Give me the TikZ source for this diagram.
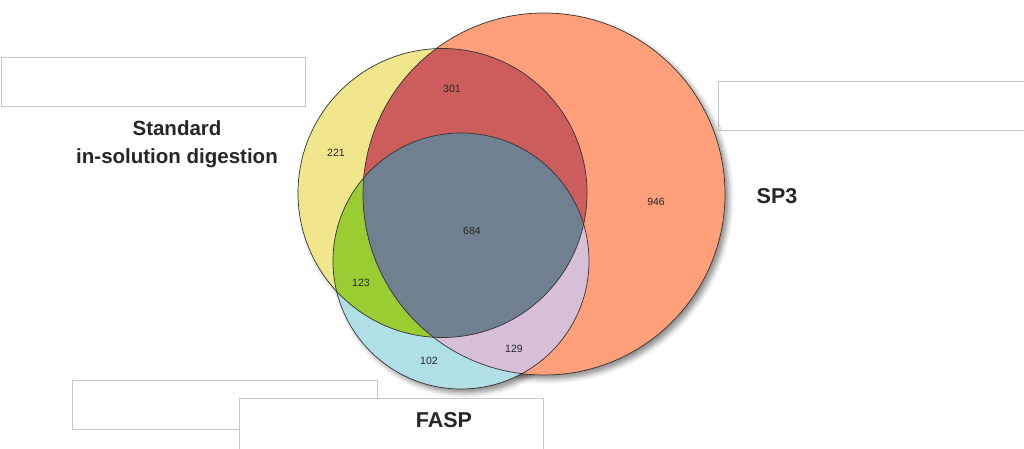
\documentclass[tikz,border=0pt]{standalone}
\usepackage{fontspec}
\setmainfont{Liberation Sans}
\usetikzlibrary{shadows.blur}
\definecolor{stdcol}{HTML}{F0E68C}
\definecolor{spcol}{HTML}{FFA07A}
\definecolor{faspcol}{HTML}{B0E0E6}
\definecolor{stdsp}{HTML}{CD5C5C}
\definecolor{stdfasp}{HTML}{9ACD32}
\definecolor{spfasp}{HTML}{D8BFD8}
\definecolor{allcol}{HTML}{708090}
\tikzset{
  setname/.style={font=\bfseries\fontsize{21.5}{28}\selectfont, text=black!85, align=center},
  numlabel/.style={font=\fontsize{10.5}{12}\selectfont, text=black!85},
  blankbox/.style={draw=black!22, fill=white, line width=1pt},
  ring/.style={draw=black!80, line width=0.7pt},
  ringshadow/.style={blur shadow={shadow xshift=4pt, shadow yshift=-4pt, shadow blur radius=5pt, shadow opacity=45}},
}
\begin{document}
\begin{tikzpicture}[x=1pt, y=-1pt]
    \useasboundingbox (0,0) rectangle (1024,449);
    \coordinate (stdc) at (442.5,193);
    \coordinate (spc) at (544,194);
    \coordinate (faspc) at (461,261);

    \draw[blankbox] (1,58) rectangle (305,107);
    \draw[blankbox] (718,82) rectangle (1030,131);
    \draw[blankbox] (72,380) rectangle (377,429);
    \draw[blankbox] (239,398) rectangle (543,455);

    \path[ringshadow] (spc) circle[radius=181pt];
    \path[ringshadow] (stdc) circle[radius=144.5pt];
    \path[ringshadow] (faspc) circle[radius=128pt];

    \fill[stdcol] (stdc) circle[radius=144.5pt];
    \fill[spcol] (spc) circle[radius=181pt];
    \fill[faspcol] (faspc) circle[radius=128pt];
    \begin{scope}
        \clip (stdc) circle[radius=144.5pt];
        \fill[stdsp] (spc) circle[radius=181pt];
        \fill[stdfasp] (faspc) circle[radius=128pt];
        \clip (spc) circle[radius=181pt];
        \fill[allcol] (faspc) circle[radius=128pt];
    \end{scope}
    \begin{scope}
        \clip (spc) circle[radius=181pt];
        \clip (faspc) circle[radius=128pt];
        \fill[spfasp] (spc) circle[radius=181pt];
        \fill[allcol] (stdc) circle[radius=144.5pt];
    \end{scope}
    \draw[ring] (spc) circle[radius=181pt];
    \draw[ring] (stdc) circle[radius=144.5pt];
    \draw[ring] (faspc) circle[radius=128pt];

    \node[numlabel] (n301) at (452,89) {301};
    \node[numlabel] (n221) at (336,153) {221};
    \node[numlabel] (n946) at (656,202) {946};
    \node[numlabel] (n684) at (472,231) {684};
    \node[numlabel] (n123) at (361,283) {123};
    \node[numlabel] (n129) at (514,349) {129};
    \node[numlabel] (n102) at (429,361) {102};

    \node[setname, font=\bfseries\fontsize{20.5}{28}\selectfont] (std) at (177,144) {Standard\\in-solution digestion};
    \node[setname] (sp3) at (777,196) {SP3};
    \node[setname] (fasp) at (444,420) {FASP};
\end{tikzpicture}
\end{document}
